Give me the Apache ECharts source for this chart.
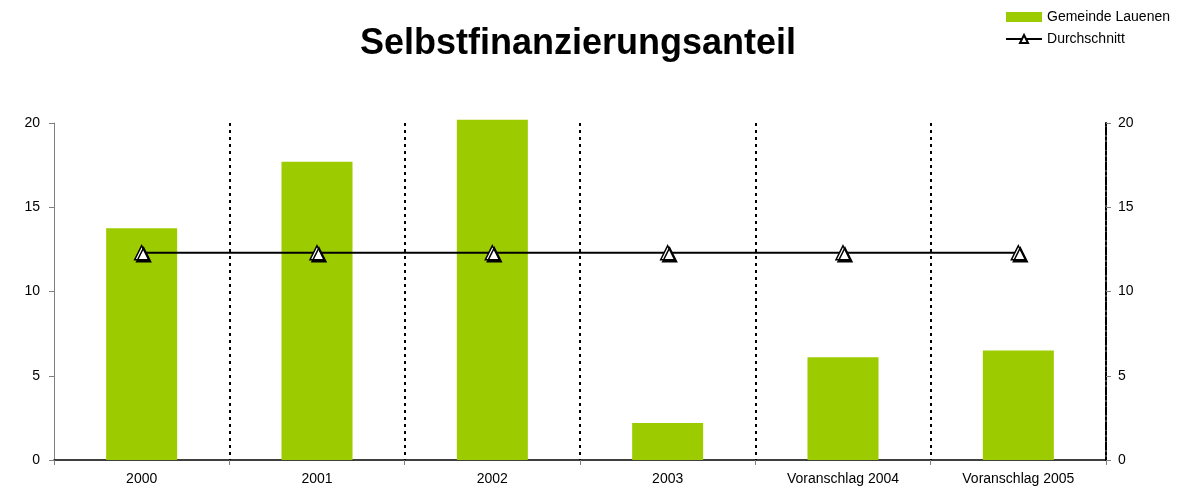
<!DOCTYPE html>
<html>
<head>
<meta charset="utf-8">
<script src="https://cdn.jsdelivr.net/npm/echarts@6/dist/echarts.min.js"></script>
<style>
  html, body { margin: 0; padding: 0; background: #fff; }
  #chart { width: 1196px; height: 497px; }
</style>
</head>
<body>
<div id="chart"></div>
<script>
// Kategorien und Werte
var categories = ['2000', '2001', '2002', '2003', 'Voranschlag 2004', 'Voranschlag 2005'];
var lauenen = [13.75, 17.7, 20.2, 2.2, 6.1, 6.5];
var durchschnitt = [12.3, 12.3, 12.3, 12.3, 12.3, 12.3];

var myChart = echarts.init(document.getElementById('chart'));
var font = 'Liberation Sans, Arial, sans-serif';

var option = {
    animation: false,
    title: {
        text: 'Selbstfinanzierungsanteil',
        left: 355, top: 21,
        textStyle: { fontFamily: font, fontSize: 36, fontWeight: 'bold', color: '#000' }
    },
    legend: {
        orient: 'vertical', right: 21, top: 5,
        itemWidth: 36, itemHeight: 10, itemGap: 8,
        textStyle: { fontFamily: font, fontSize: 14, color: '#000' },
        data: [
            { name: 'Gemeinde Lauenen', icon: 'rect' },
            'Durchschnitt'
        ]
    },
    grid: { left: 54, right: 90, top: 123, bottom: 37 },
    xAxis: {
        type: 'category',
        data: categories,
        axisLine: { lineStyle: { color: '#000', width: 1.5 } },
        axisTick: { show: true, length: 5, lineStyle: { color: '#808080' } },
        axisLabel: { fontFamily: font, fontSize: 14, color: '#000', margin: 12 },
        splitLine: {
            show: true,
            interval: function (index) { return index !== 0; },
            lineStyle: { color: '#000', type: [3, 4], width: 2 }
        }
    },
    yAxis: [
        {
            type: 'value', min: 0, max: 20, interval: 5,
            axisLine: { show: true, lineStyle: { color: '#808080', width: 1 } },
            axisTick: { show: true, length: 5, lineStyle: { color: '#808080' } },
            axisLabel: { fontFamily: font, fontSize: 14, color: '#000', margin: 14 },
            splitLine: { show: false }
        },
        {
            type: 'value', min: 0, max: 20, interval: 5, position: 'right',
            axisLine: { show: true, lineStyle: { color: '#000', type: [3, 2], width: 2 } },
            axisTick: { show: true, length: 5, lineStyle: { color: '#808080' } },
            axisLabel: { fontFamily: font, fontSize: 14, color: '#000', margin: 12 },
            splitLine: { show: false }
        }
    ],
    series: [
        {
            name: 'Gemeinde Lauenen', type: 'bar', data: lauenen,
            barWidth: 71, clip: false,
            itemStyle: { color: '#9ccb00' }
        },
        {
            name: 'Durchschnitt', type: 'line', data: durchschnitt,
            symbol: 'triangle', symbolSize: 14,
            lineStyle: { color: '#000', width: 2 },
            itemStyle: {
                color: '#fff', borderColor: '#000', borderWidth: 1.5,
                shadowColor: '#000', shadowOffsetX: 2, shadowOffsetY: 2, shadowBlur: 0
            },
            z: 5
        }
    ]
};
myChart.setOption(option);
</script>
</body>
</html>
